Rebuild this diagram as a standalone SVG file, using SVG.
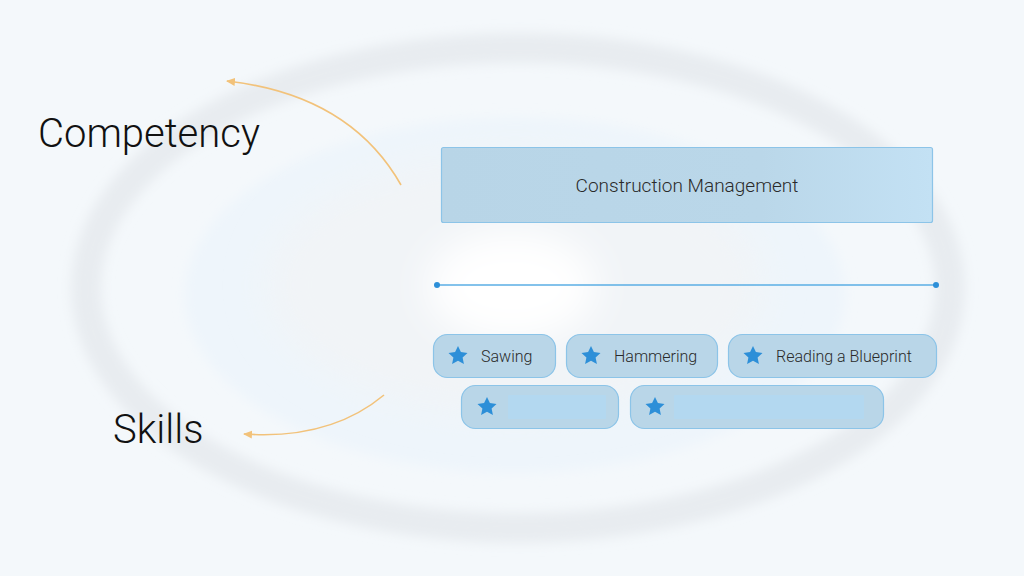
<svg xmlns="http://www.w3.org/2000/svg" width="1024" height="576" viewBox="0 0 1024 576">
<defs>
<filter id="blur" x="-20%" y="-20%" width="140%" height="140%"><feGaussianBlur stdDeviation="6"/></filter>
<filter id="blur2" x="-50%" y="-50%" width="200%" height="200%"><feGaussianBlur stdDeviation="18"/></filter>
<linearGradient id="boxg" x1="0" y1="0" x2="1" y2="0">
<stop offset="0" stop-color="#b8d5e7"/><stop offset="0.65" stop-color="#bad7e9"/><stop offset="1" stop-color="#c3e1f4"/>
</linearGradient>
<marker id="ah" markerWidth="10" markerHeight="10" refX="8" refY="5" orient="auto" markerUnits="userSpaceOnUse">
<path d="M0,1 L9,5 L0,9 Z" fill="#f2c27a"/>
</marker>
<path id="star" d="M0,-10 L2.9,-3.9 L9.5,-3.1 L4.6,1.5 L5.9,8.1 L0,4.8 L-5.9,8.1 L-4.6,1.5 L-9.5,-3.1 L-2.9,-3.9 Z"/>
</defs>
<style>
.pill{fill:#b9d6e8;stroke:#8cc4e8;stroke-width:1.2}
.ph{fill:#b3d8f0}
.star{fill:#2d8fd8}
.lbl{font-family:Roboto,"Liberation Sans",sans-serif;font-weight:300;font-size:16px;fill:#2a2a2a}
.big{font-family:Roboto,"Liberation Sans",sans-serif;font-weight:300;font-size:40px;fill:#111}
.arr{fill:none;stroke:#f2c27a;stroke-width:1.6;marker-end:url(#ah)}
</style>
<rect width="1024" height="576" fill="#f4f8fb"/>
<g id="background">
<ellipse cx="518" cy="288" rx="432" ry="240" fill="none" stroke="#e8ecf0" stroke-width="30" filter="url(#blur)"/>
<ellipse cx="515" cy="295" rx="330" ry="178" fill="#eef5fb" filter="url(#blur)"/>
<ellipse cx="515" cy="285" rx="250" ry="130" fill="#f1f4f7" filter="url(#blur2)"/>
<ellipse cx="512" cy="286" rx="85" ry="55" fill="#ffffff" filter="url(#blur2)"/>
</g>
<g id="competency"><text class="big" x="38" y="147">Competency</text></g>
<g id="skills"><text class="big" x="113" y="443">Skills</text></g>
<g id="connectors">
<path class="arr" d="M401,185 Q350,95 227,81"/>
<path class="arr" d="M384,395 Q330,440 244,434"/>
<line x1="437" y1="285" x2="936" y2="285" stroke="#5aaee4" stroke-width="1.6"/>
<circle cx="437" cy="285" r="3" fill="#2d8fd8"/>
<circle cx="936" cy="285" r="3" fill="#2d8fd8"/>
</g>
<g id="construction-management">
<rect x="441.5" y="147.5" width="491" height="75" rx="2" fill="url(#boxg)" stroke="#8cc4e8" stroke-width="1.2"/>
<text class="lbl" x="687" y="192" text-anchor="middle" style="font-size:19px">Construction Management</text>
</g>
<g id="sawing">
<rect class="pill" x="433.5" y="334.5" width="122" height="43" rx="14"/>
<use href="#star" class="star" x="458" y="356"/>
<text class="lbl" x="481" y="361.5">Sawing</text>
</g>
<g id="hammering">
<rect class="pill" x="566.5" y="334.5" width="151" height="43" rx="14"/>
<use href="#star" class="star" x="591" y="356"/>
<text class="lbl" x="614" y="361.5">Hammering</text>
</g>
<g id="reading-a-blueprint">
<rect class="pill" x="728.5" y="334.5" width="208" height="43" rx="14"/>
<use href="#star" class="star" x="753" y="356"/>
<text class="lbl" x="776" y="361.5">Reading a Blueprint</text>
</g>
<g id="skill-4">
<rect class="pill" x="461.5" y="385.5" width="157" height="43" rx="14"/>
<use href="#star" class="star" x="487" y="407"/>
<rect class="ph" x="508" y="395" width="98" height="24" rx="1"/>
</g>
<g id="skill-5">
<rect class="pill" x="630.5" y="385.5" width="253" height="43" rx="14"/>
<use href="#star" class="star" x="655" y="407"/>
<rect class="ph" x="674" y="395" width="190" height="24" rx="1"/>
</g>
</svg>
